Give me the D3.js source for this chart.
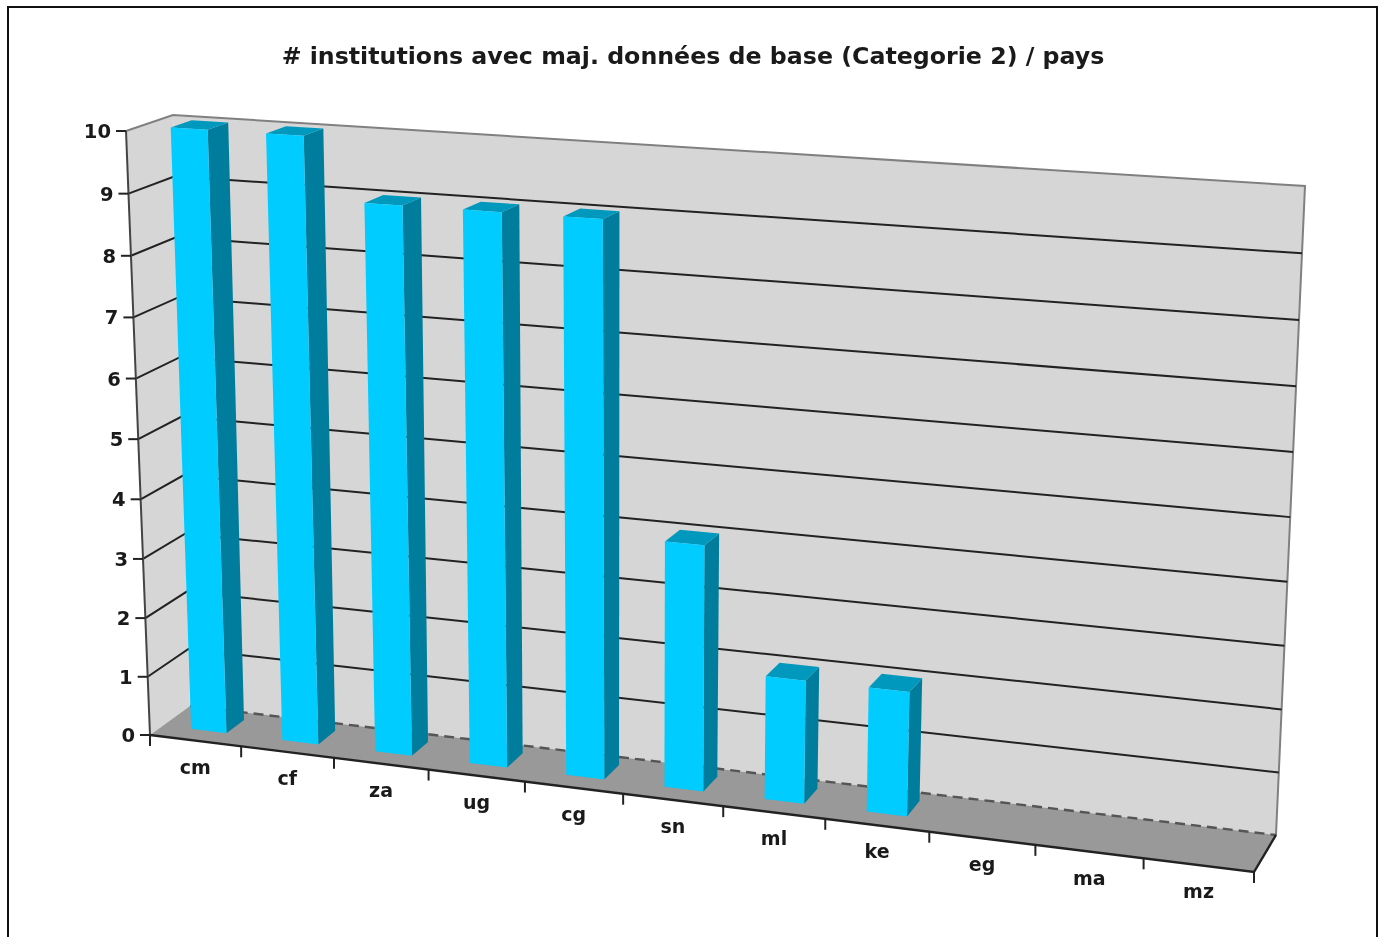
<!DOCTYPE html>
<html lang="fr">
<head>
    <meta charset="UTF-8">
    <title># institutions / pays</title>
    <script src="https://d3js.org/d3.v7.min.js" charset="utf-8"></script>
    <style>
        html, body { margin: 0; padding: 0; background: #fff; }
        svg { display: block; filter: blur(0.5px); }
        text { font-family: "DejaVu Sans", sans-serif; font-weight: bold; fill: #1a1a1a; }
    </style>
</head>
<body>
    <script>
        var width = 1383;
        var height = 937;

        var titleText = "# institutions avec maj. données de base (Categorie 2) / pays";
        var pays = ["cm", "cf", "za", "ug", "cg", "sn", "ml", "ke", "eg", "ma", "mz"];
        var institutions = [10, 10, 9, 9, 9, 4, 2, 2, 0, 0, 0];
        var yTicks = [0, 1, 2, 3, 4, 5, 6, 7, 8, 9, 10];

        // the 8 corners of the 3D box as they land on screen
        var frontLeftLow = [150, 735], frontLeftHigh = [126, 131];
        var frontRightLow = [1254, 872], frontRightHigh = [1282, 202];
        var backLeftLow = [190, 706], backLeftHigh = [173, 115];
        var backRightLow = [1276, 835], backRightHigh = [1305, 186];

        var xScale = d3.scaleLinear().domain([0, pays.length]).range([0, 1]);
        var yScale = d3.scaleLinear().domain([0, 10]).range([0, 1]);

        // steps get a little wider toward the far end of each axis (perspective)
        function stretch(u, w) {
            return u * w / (1 + u * (w - 1));
        }

        function mix(a, b, t) {
            return [a[0] + (b[0] - a[0]) * t, a[1] + (b[1] - a[1]) * t];
        }

        // category position, value, depth (0 = front, 1 = back wall) -> screen point
        function project(cat, value, depth) {
            var t = stretch(xScale(cat), 0.9);
            var v = stretch(yScale(value), 0.96);
            var low = mix(mix(frontLeftLow, frontRightLow, t), mix(backLeftLow, backRightLow, t), depth);
            var high = mix(mix(frontLeftHigh, frontRightHigh, t), mix(backLeftHigh, backRightHigh, t), depth);
            return mix(low, high, v);
        }

        var line = d3.line();
        var n = pays.length;

        var svg = d3.select("body")
            .append("svg")
            .attr("width", width)
            .attr("height", height);

        // frame, runs off the bottom of the page
        svg.append("rect")
            .attr("x", 8).attr("y", 7)
            .attr("width", 1369).attr("height", 960)
            .attr("fill", "#fff")
            .attr("stroke", "#111")
            .attr("stroke-width", 2);

        svg.append("text")
            .attr("x", 693).attr("y", 64)
            .attr("text-anchor", "middle")
            .attr("font-size", 23.7)
            .text(titleText);

        // back wall and left wall
        svg.append("path")
            .attr("d", line([project(0, 0, 1), project(0, 10, 1), project(n, 10, 1), project(n, 0, 1)]) + "Z")
            .attr("fill", "#d6d6d6");
        svg.append("path")
            .attr("d", line([project(0, 0, 0), project(0, 10, 0), project(0, 10, 1), project(0, 0, 1)]) + "Z")
            .attr("fill", "#d6d6d6");

        // wall outlines
        svg.append("path")
            .attr("d", line([project(0, 10, 0), project(0, 10, 1), project(n, 10, 1), project(n, 0, 1)]))
            .attr("fill", "none")
            .attr("stroke", "#808080")
            .attr("stroke-width", 2);

        // gridlines, on the side wall and along the back wall
        svg.append("g").selectAll("path")
            .data(yTicks.filter(function(d) { return d > 0 && d < 10; }))
            .enter()
            .append("path")
            .attr("d", function(d) {
                return line([project(0, d, 0), project(0, d, 1), project(n, d, 1)]);
            })
            .attr("fill", "none")
            .attr("stroke", "#222")
            .attr("stroke-width", 2);

        // floor
        svg.append("path")
            .attr("d", line([project(0, 0, 0), project(n, 0, 0), project(n, 0, 1), project(0, 0, 1)]) + "Z")
            .attr("fill", "#999");
        svg.append("path")
            .attr("d", line([project(0, 0, 1), project(n, 0, 1)]))
            .attr("stroke", "#555")
            .attr("stroke-width", 2.4)
            .attr("stroke-dasharray", "10,6");

        // axis lines
        svg.append("path")
            .attr("d", line([project(0, 10, 0), project(0, 0, 0)]))
            .attr("fill", "none")
            .attr("stroke", "#444")
            .attr("stroke-width", 2);
        svg.append("path")
            .attr("d", line([project(0, 0, 0), project(n, 0, 0), project(n, 0, 1)]))
            .attr("fill", "none")
            .attr("stroke", "#222")
            .attr("stroke-width", 2.4);

        // y ticks and labels
        var yAxis = svg.append("g").selectAll("g")
            .data(yTicks)
            .enter()
            .append("g")
            .attr("transform", function(d) {
                return "translate(" + project(0, d, 0) + ")";
            });
        yAxis.append("line")
            .attr("x1", -10).attr("x2", 0)
            .attr("stroke", "#222")
            .attr("stroke-width", 2);
        yAxis.append("text")
            .attr("x", -15).attr("y", 7)
            .attr("text-anchor", "end")
            .attr("font-size", 19.5)
            .text(function(d) { return d; });

        // x ticks and labels
        svg.append("g").selectAll("line")
            .data(d3.range(n + 1))
            .enter()
            .append("line")
            .attr("x1", function(d) { return project(d, 0, 0)[0]; })
            .attr("x2", function(d) { return project(d, 0, 0)[0]; })
            .attr("y1", function(d) { return project(d, 0, 0)[1]; })
            .attr("y2", function(d) { return project(d, 0, 0)[1] + 11; })
            .attr("stroke", "#222")
            .attr("stroke-width", 2);

        svg.append("g").selectAll("text")
            .data(pays)
            .enter()
            .append("text")
            .attr("x", function(d, i) { return project(i + 0.5, 0, 0)[0]; })
            .attr("y", function(d, i) { return project(i + 0.5, 0, 0)[1] + 33; })
            .attr("text-anchor", "middle")
            .attr("font-size", 19)
            .text(function(d) { return d; });

        // bars, skipping the empty ones
        var barFrom = 0.31, barTo = 0.7, depthFrom = 0.33, depthTo = 0.78;

        var bars = svg.append("g").selectAll("g")
            .data(institutions.map(function(v, i) { return { i: i, v: v }; }).filter(function(d) { return d.v > 0; }))
            .enter()
            .append("g");

        bars.append("path")
            .attr("d", function(d) {
                var a = d.i + barTo;
                return line([project(a, 0, depthFrom), project(a, d.v, depthFrom), project(a, d.v, depthTo), project(a, 0, depthTo)]) + "Z";
            })
            .attr("fill", "#007d9c");
        bars.append("path")
            .attr("d", function(d) {
                var a = d.i + barFrom, b = d.i + barTo;
                return line([project(a, d.v, depthFrom), project(b, d.v, depthFrom), project(b, d.v, depthTo), project(a, d.v, depthTo)]) + "Z";
            })
            .attr("fill", "#0099bd");
        bars.append("path")
            .attr("d", function(d) {
                var a = d.i + barFrom, b = d.i + barTo;
                return line([project(a, 0, depthFrom), project(a, d.v, depthFrom), project(b, d.v, depthFrom), project(b, 0, depthFrom)]) + "Z";
            })
            .attr("fill", "#00ccff");
    </script>
</body>
</html>
